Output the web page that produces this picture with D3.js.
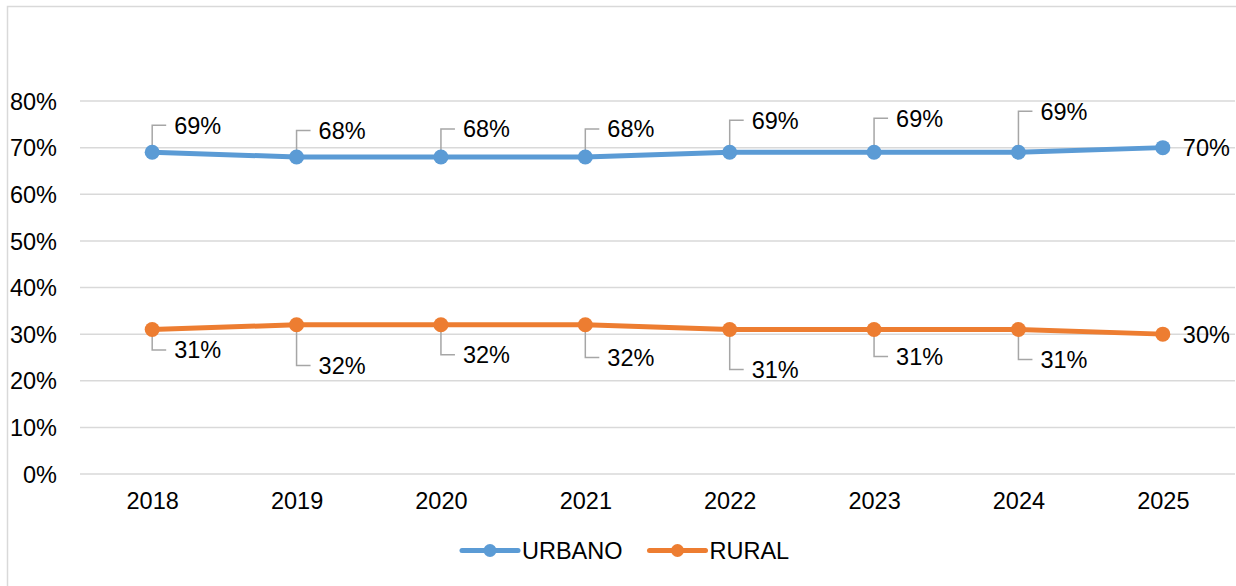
<!DOCTYPE html>
<html>
<head>
<meta charset="utf-8">
<script src="https://cdn.jsdelivr.net/npm/d3@7"></script>
<style>
  html, body { margin: 0; padding: 0; background: #fff; }
  svg { display: block; }
  text { font-family: "Liberation Sans", Arial, sans-serif; fill: #000; }
</style>
</head>
<body>
<svg id="chart" width="1236" height="586"></svg>
<script>
// ---- data ----
const years = ["2018", "2019", "2020", "2021", "2022", "2023", "2024", "2025"];
const urbano = [0.69, 0.68, 0.68, 0.68, 0.69, 0.69, 0.69, 0.70];
const rural  = [0.31, 0.32, 0.32, 0.32, 0.31, 0.31, 0.31, 0.30];
const yTicks = [0, 0.1, 0.2, 0.3, 0.4, 0.5, 0.6, 0.7, 0.8];
const seriesNames = ["URBANO", "RURAL"];

// ---- layout (label placement, not data) ----
const urbanoLabelDy = [-27, -26.5, -28, -28, -32, -34, -41, 0];
const ruralLabelDy  = [20.5, 40.7, 30, 32.7, 40, 27, 30, 1];

const colors = ["#5B9BD5", "#ED7D31"];
const svg = d3.select("#chart");
const W = 1236, H = 586;
const fontSize = 23.5;

// chart frame
svg.append("rect")
  .attr("x", 7.5).attr("y", 6.5)
  .attr("width", W + 10).attr("height", H + 10)
  .attr("fill", "#fff").attr("stroke", "#D9D9D9").attr("stroke-width", 1.5);

const x = d3.scalePoint().domain(years).range([80, 1235]).padding(0.5);
const y = d3.scaleLinear().domain([0, 0.8]).range([474, 101]);

// gridlines
svg.append("g").selectAll("line").data(yTicks).join("line")
  .attr("x1", 80).attr("x2", 1235)
  .attr("y1", d => y(d)).attr("y2", d => y(d))
  .attr("stroke", "#D9D9D9").attr("stroke-width", 1.5);

// y axis
const yAxis = d3.axisLeft(y).tickValues(yTicks).tickSize(0).tickPadding(0)
  .tickFormat(d3.format(".0%"));
const gy = svg.append("g").attr("transform", "translate(57,0)").call(yAxis);
gy.select(".domain").remove();
gy.selectAll("text").attr("font-size", fontSize).attr("fill", "#000")
  .style("font-family", '"Liberation Sans", Arial, sans-serif').attr("dy", "0.35em");

// x axis
const xAxis = d3.axisBottom(x).tickSize(0).tickPadding(0);
const gx = svg.append("g").attr("transform", "translate(0,501)").call(xAxis);
gx.select(".domain").remove();
gx.selectAll("text").attr("font-size", fontSize).attr("fill", "#000")
  .style("font-family", '"Liberation Sans", Arial, sans-serif').attr("dy", "0.35em");

const series = [
  { name: seriesNames[0], values: urbano, dy: urbanoLabelDy, color: colors[0] },
  { name: seriesNames[1], values: rural, dy: ruralLabelDy, color: colors[1] }
];

const line = d3.line().x((d, i) => x(years[i])).y(d => y(d));

series.forEach(s => {
  const g = svg.append("g");
  g.append("path").datum(s.values)
    .attr("d", line).attr("fill", "none")
    .attr("stroke", s.color).attr("stroke-width", 5).attr("stroke-linejoin", "round");

  // leader lines
  const last = s.values.length - 1;
  g.selectAll("path.leader").data(s.values).join("path")
    .attr("class", "leader")
    .filter((d, i) => i !== last)
    .attr("d", (d, i) => {
      const px = x(years[i]), py = y(d), ly = py + s.dy[i];
      return `M${px},${py}V${ly}H${px + 14}`;
    })
    .attr("fill", "none").attr("stroke", "#A6A6A6").attr("stroke-width", 1.5);

  g.selectAll("circle").data(s.values).join("circle")
    .attr("cx", (d, i) => x(years[i])).attr("cy", d => y(d))
    .attr("r", 7.5).attr("fill", s.color);

  g.selectAll("text.lbl").data(s.values).join("text")
    .attr("class", "lbl")
    .attr("x", (d, i) => x(years[i]) + (i === last ? 20 : 22))
    .attr("y", (d, i) => y(d) + s.dy[i])
    .attr("dy", "0.35em")
    .attr("font-size", fontSize)
    .text(d => d3.format(".0%")(d));
});

// legend
const legend = svg.append("g");
const legendItems = [
  { name: seriesNames[0], color: colors[0], x0: 462 },
  { name: seriesNames[1], color: colors[1], x0: 649.5 }
];
legendItems.forEach(it => {
  const ly = 550.5;
  legend.append("line").attr("x1", it.x0).attr("x2", it.x0 + 56)
    .attr("y1", ly).attr("y2", ly)
    .attr("stroke", it.color).attr("stroke-width", 5).attr("stroke-linecap", "round");
  legend.append("circle").attr("cx", it.x0 + 28).attr("cy", ly).attr("r", 6.5).attr("fill", it.color);
  legend.append("text").attr("x", it.x0 + 60).attr("y", ly).attr("dy", "0.35em")
    .attr("font-size", fontSize).text(it.name);
});
</script>
</body>
</html>
